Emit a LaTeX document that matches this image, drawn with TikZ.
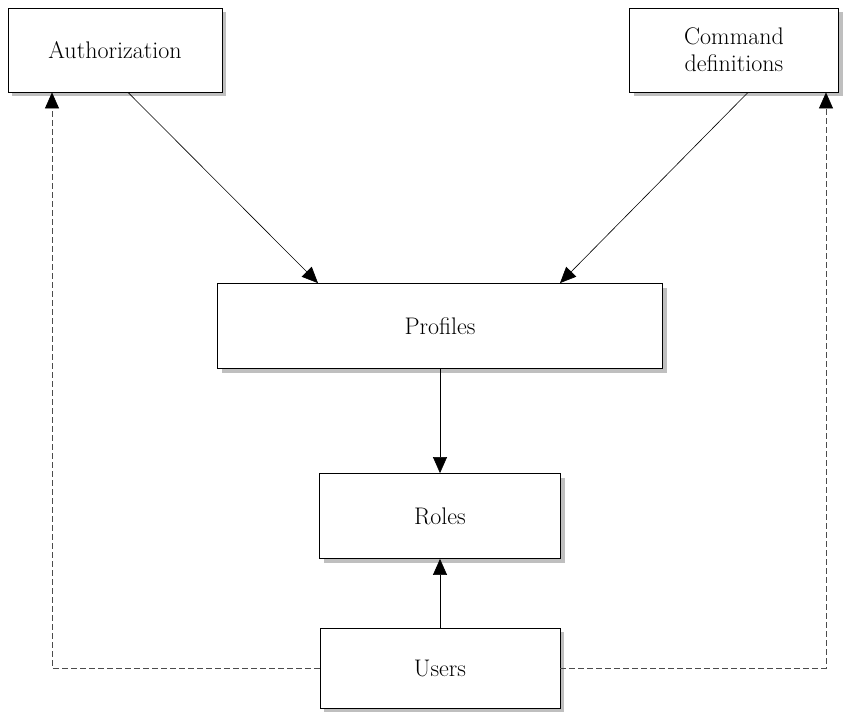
\documentclass[tikz,border=0pt]{standalone}
\usetikzlibrary{arrows.meta,calc,shadows}
\begin{document}
\begin{tikzpicture}[x=1pt,y=-1pt,
  box/.style={draw=black,line width=0.8pt,fill=white,align=center,
    font=\fontsize{24}{27}\selectfont,inner sep=0pt,
    drop shadow={shadow xshift=4pt,shadow yshift=-4pt,fill=black!25,opacity=1}},
  conn/.style={line width=0.6pt,-{Triangle[length=16pt,width=14pt]}},
  dconn/.style={line width=0.6pt,draw=black!70,dash pattern=on 6pt off 3pt,-{Triangle[length=16pt,width=14pt,color=black]}}]
\useasboundingbox (0,0) rectangle (865,715);
\node[box,minimum width=214pt,minimum height=84pt] (auth) at (115,50) {Authorization};
\node[box,minimum width=209pt,minimum height=84pt] (cmd) at (734,50) {Command\\definitions};
\node[box,minimum width=445pt,minimum height=85pt] (prof) at (440,326) {Profiles};
\node[box,minimum width=241pt,minimum height=85pt] (roles) at (440,516) {Roles};
\node[box,minimum width=240pt,minimum height=80pt] (users) at (440,668) {Users};
\draw[conn] ($(auth.south)+(13,0)$) -- ($(prof.north)+(-122,0)$);
\draw[conn] ($(cmd.south)+(14,0)$) -- ($(prof.north)+(120,0)$);
\draw[conn] (prof.south) -- (roles.north);
\draw[conn] (users.north) -- (roles.south);
\coordinate (lc) at (52,668);
\coordinate (rc) at (826,668);
\draw[dconn] (users.west) -- (lc) -- (lc |- auth.south);
\draw[dconn] (users.east) -- (rc) -- (rc |- cmd.south);
\end{tikzpicture}
\end{document}
